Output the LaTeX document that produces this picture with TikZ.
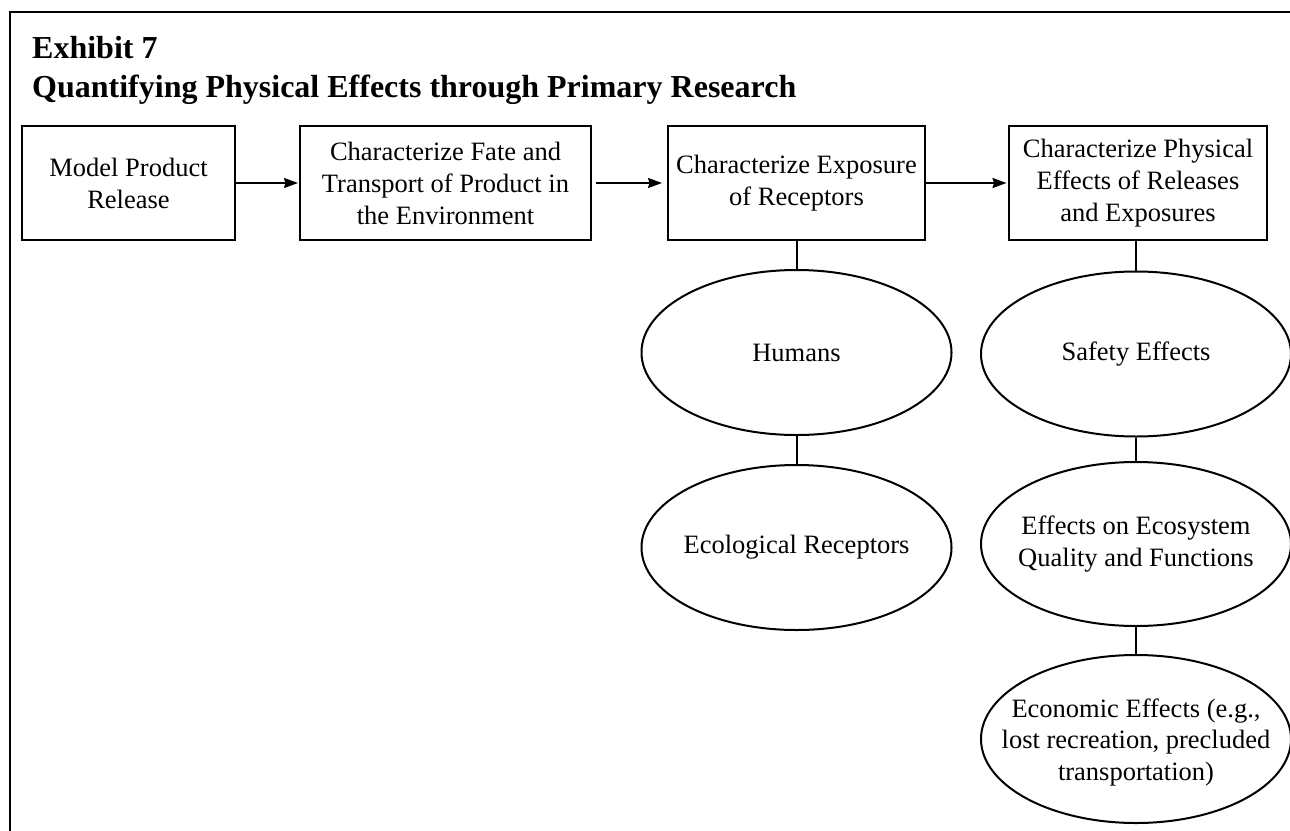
\documentclass[tikz,border=0pt]{standalone}
\usepackage{fontspec}
\setmainfont{Liberation Serif}
\usetikzlibrary{arrows.meta,shapes.geometric}
\begin{document}
\begin{tikzpicture}[x=1pt,y=-1pt,
  stepbox/.style={draw,line width=2pt,rectangle,minimum height=114pt,inner sep=0pt,align=center,font=\fontsize{26.5}{32}\selectfont},
  oval/.style={draw,line width=2pt,ellipse,inner sep=0pt,minimum width=310pt,minimum height=165pt},
  otext/.style={align=center,font=\fontsize{26.5}{31.5}\selectfont},
  flow/.style={line width=2pt,-{Stealth[length=14pt,width=10pt,inset=1.5pt]}},
  link/.style={line width=2pt},
  titlefont/.style={font=\fontsize{32}{38}\selectfont\bfseries,anchor=base west,inner sep=0pt}]
\useasboundingbox (0,0) rectangle (1290,830);
% frame
\coordinate (fbl) at (10,840);
\coordinate (ftl) at (10,12);
\coordinate (ftr) at (1300,12);
\draw[line width=2.5pt] (fbl) -- (ftl) -- (ftr);
% title
\node[titlefont] (t1) at (32,58) {Exhibit 7};
\node[titlefont] (t2) at (32,97) {Quantifying Physical Effects through Primary Research};
% boxes
\node[stepbox,minimum width=213pt] (b1) at (128.5,183) {Model Product\\Release};
\node[stepbox,minimum width=291pt] (b2) at (445.5,183) {Characterize Fate and\\Transport of Product in\\the Environment};
\node[stepbox,minimum width=257pt] (b3) at (796.5,183) {Characterize Exposure\\of Receptors};
\node[stepbox,minimum width=258pt] (b4) at (1138,183) {Characterize Physical\\Effects of Releases\\and Exposures};
% ellipses
\node[oval,label={[otext]center:Humans}] (h) at (796.5,352.5) {};
\node[oval,label={[otext]center:Ecological Receptors}] (e) at (796.5,547.5) {};
\node[oval,label={[otext]center:Safety Effects}] (s) at (1136,354) {};
\node[oval,minimum height=164pt,label={[otext]center:Effects on Ecosystem\\Quality and Functions}] (q) at (1136,544) {};
\node[oval,minimum height=168pt,label={[otext,yshift=-3pt]center:Economic Effects (e.g.,\\lost recreation, precluded\\transportation)}] (c) at (1136,739) {};
% connectors
\draw[flow,shorten >=1pt] (b1) -- (b2);
\draw[flow,shorten <=4pt,shorten >=5pt] (b2) -- (b3);
\draw[flow,shorten >=1.5pt] (b3) -- (b4);
\draw[link] (b3.south) -- (h.north);
\draw[link] (h.south) -- (e.north);
\draw[link] (b4.south -| s.north) -- (s.north);
\draw[link] (s.south) -- (q.north);
\draw[link] (q.south) -- (c.north);
\end{tikzpicture}
\end{document}
